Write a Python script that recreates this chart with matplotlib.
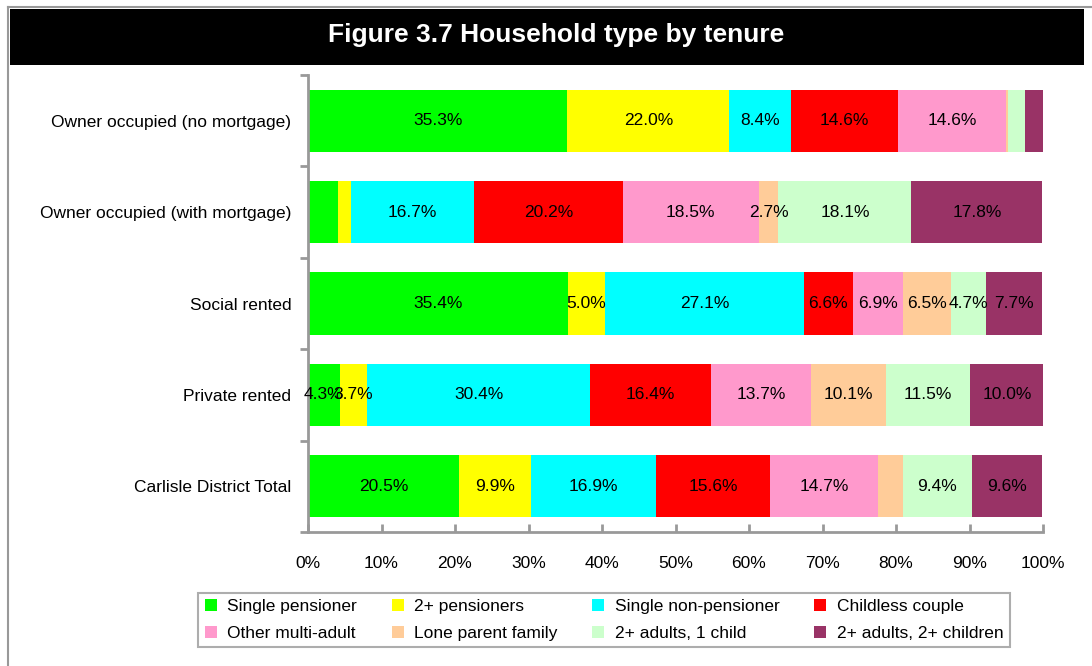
"""Figure 3.7 Household type by tenure - stacked 100% bar chart."""

import numpy as np
import matplotlib
matplotlib.use("Agg")
import matplotlib.pyplot as plt
from matplotlib.patches import Rectangle
from matplotlib.lines import Line2D

plt.rcParams["font.family"] = ["Liberation Sans", "DejaVu Sans"]

tenures = [
    "Owner occupied (no mortgage)",
    "Owner occupied (with mortgage)",
    "Social rented",
    "Private rented",
    "Carlisle District Total",
]
household_types = [
    "Single pensioner", "2+ pensioners", "Single non-pensioner", "Childless couple",
    "Other multi-adult", "Lone parent family", "2+ adults, 1 child", "2+ adults, 2+ children",
]
colors = ["#00FF00", "#FFFF00", "#00FFFF", "#FF0000",
          "#FF99CC", "#FFCC99", "#CCFFCC", "#993366"]

# shares (%) per tenure, in household type order
no_mortgage = [35.3, 22.0, 8.4, 14.6, 14.6, 0.3, 2.4, 2.4]
with_mortgage = [4.1, 1.8, 16.7, 20.2, 18.5, 2.7, 18.1, 17.8]
social_rented = [35.4, 5.0, 27.1, 6.6, 6.9, 6.5, 4.7, 7.7]
private_rented = [4.3, 3.7, 30.4, 16.4, 13.7, 10.1, 11.5, 10.0]
district_total = [20.5, 9.9, 16.9, 15.6, 14.7, 3.3, 9.4, 9.6]

# segments the source leaves without a data label: (tenure row, type column)
unlabelled = {(0, 5), (0, 6), (0, 7), (1, 0), (1, 1), (4, 5)}

data = np.array([no_mortgage, with_mortgage, social_rented, private_rented, district_total])

fig = plt.figure(figsize=(10.92, 6.66), dpi=100)

# frame lines and black title band
fig.add_artist(Line2D([8 / 1092, 8 / 1092], [0, 1 - 7 / 666], color="#999999", lw=1.5))
fig.add_artist(Line2D([8 / 1092, 1], [1 - 7 / 666, 1 - 7 / 666], color="#999999", lw=1.5))
fig.add_artist(Rectangle((10 / 1092, 1 - 65 / 666), 1074 / 1092, 56 / 666,
                         transform=fig.transFigure, facecolor="black", edgecolor="none"))
fig.text(556 / 1092, 1 - 35 / 666, "Figure 3.7 Household type by tenure", color="white",
         fontsize=19, fontweight="bold", ha="center", va="center")

ax = fig.add_axes([308 / 1092, 1 - 532 / 666, 735 / 1092, 457 / 666])
y = np.arange(len(tenures))
left = np.zeros(len(tenures))
for j, name in enumerate(household_types):
    vals = data[:, j]
    ax.barh(y, vals / 100, left=left / 100, height=0.68, color=colors[j], label=name)
    for i, v in enumerate(vals):
        if (i, j) in unlabelled:
            continue
        ax.text((left[i] + v / 2) / 100, y[i], f"{v:.1f}%", ha="center", va="center",
                fontsize=12.5, color="black")
    left += vals

ax.set_ylim(len(tenures) - 0.5, -0.5)
ax.set_xlim(0, 1)
ax.set_yticks(y)
ax.set_yticklabels(tenures, fontsize=12.5)
ax.set_yticks(np.arange(len(tenures) + 1) - 0.5, minor=True)
ax.tick_params(axis="y", which="major", length=0, pad=12)
ax.tick_params(axis="y", which="minor", length=6, width=2, color="#999999", direction="out")
ax.set_xticks(np.arange(0, 1.01, 0.1))
ax.set_xticklabels([f"{int(round(t * 100))}%" for t in np.arange(0, 1.01, 0.1)], fontsize=12.5)
ax.tick_params(axis="x", length=6, width=2, color="#999999", direction="in", pad=17)
for side in ["top", "right"]:
    ax.spines[side].set_visible(False)
for side in ["left", "bottom"]:
    ax.spines[side].set_color("#999999")
    ax.spines[side].set_linewidth(2)

# legend filled row by row like the source
handles, labels = ax.get_legend_handles_labels()
order = [0, 4, 1, 5, 2, 6, 3, 7]
leg = fig.legend([handles[k] for k in order], [labels[k] for k in order],
                 loc="center", bbox_to_anchor=(604 / 1092, 1 - 620 / 666), ncol=4,
                 fontsize=12.5, frameon=True, fancybox=False, edgecolor="#999999",
                 handlelength=0.7, handleheight=0.7, handletextpad=0.6,
                 columnspacing=2.0, labelspacing=0.65, borderpad=0.35)
leg.get_frame().set_linewidth(1.5)

fig.savefig("out.png", dpi=100)
plt.close(fig)
